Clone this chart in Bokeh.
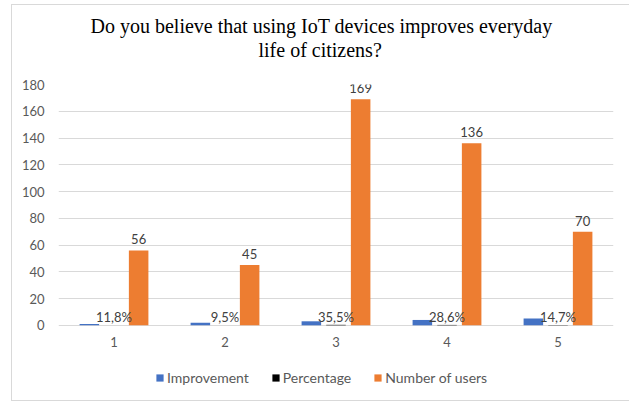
import numpy as np
from bokeh.plotting import figure
from bokeh.models import (Range1d, FixedTicker, Legend, LegendItem, ColumnDataSource, Title)
from bokeh.embed import file_html
from bokeh.resources import INLINE

# Survey answers on a 1-5 scale
categories = [1, 2, 3, 4, 5]
improvement = [1, 2, 3, 4, 5]
percentage = [0.118, 0.095, 0.355, 0.286, 0.147]
users = [56, 45, 169, 136, 70]
y_ticks = [0, 20, 40, 60, 80, 100, 120, 140, 160, 180]
title_lines = ["Do you believe that using IoT devices improves everyday",
               "life of citizens?"]

BLUE = "#4472C4"
BLACK = "#000000"
ORANGE = "#ED7D31"
GREY_TEXT = "#595959"
LABEL_TEXT = "#404040"
FONT = "Lato"

x = np.array(categories, dtype=float)
bar_w = 0.176
shift = 0.222

src = ColumnDataSource(dict(
    x_imp=x - shift,
    x_pct=x,
    x_usr=x + shift,
    x_cat=x,
    zero=[0] * len(categories),
    cat_text=[str(c) for c in categories],
    improvement=improvement,
    percentage=percentage,
    users=users,
    pct_text=[f"{v * 100:.1f}%".replace(".", ",") for v in percentage],
    usr_text=[str(v) for v in users],
))

# the frame reaches below zero so the category labels and legend sit inside it
p = figure(
    width=618, height=397,
    x_range=Range1d(0.5, 5.5), y_range=Range1d(-57.7, 180),
    output_backend="svg", toolbar_location=None,
    x_axis_location=None,
    min_border_left=46, min_border_right=17,
    min_border_top=79, min_border_bottom=0,
)
p.title = None
p.margin = (4, 0, 0, 11)
p.styles = {"border-left": "1px solid #d9d9d9",
            "border-top": "1px solid #d9d9d9",
            "border-bottom": "1px solid #d9d9d9"}

# blank spacer between the plot and the title block
p.add_layout(Title(text=" ", text_font="Liberation Serif",
                   text_font_size="20px", standoff=0), "above")

# two-line chart title; second line is added first so it sits next to the plot
title_offsets = [32, 200]
for line, off in reversed(list(zip(title_lines, title_offsets))):
    p.add_layout(Title(text=line, align="left", offset=off,
                       text_font="Liberation Serif", text_font_size="20px",
                       text_font_style="normal", text_color="#000000",
                       standoff=0), "above")

p.outline_line_color = None
p.background_fill_color = "white"
p.border_fill_color = "white"

r_imp = p.vbar(x="x_imp", top="improvement", width=bar_w, source=src,
               fill_color=BLUE, line_color=None)
r_pct = p.vbar(x="x_pct", top="percentage", width=bar_w, source=src,
               fill_color=BLACK, line_color=None)
r_usr = p.vbar(x="x_usr", top="users", width=bar_w, source=src,
               fill_color=ORANGE, line_color=None)

# value labels above bars
p.text(x="x_pct", y="percentage", text="pct_text", source=src,
       text_align="center", text_baseline="alphabetic", y_offset=-8,
       text_font_size="13px", text_color=LABEL_TEXT,
       text_font={"value": FONT})
p.text(x="x_usr", y="users", text="usr_text", source=src,
       text_align="center", text_baseline="alphabetic", y_offset=-11,
       text_font_size="13px", text_color=LABEL_TEXT,
       text_font={"value": FONT})

# category labels under the zero line
p.text(x="x_cat", y="zero", text="cat_text", source=src,
       text_align="center", text_baseline="middle", y_offset=17,
       text_font_size="13px", text_color=GREY_TEXT,
       text_font={"value": FONT})

# value axis and grid
p.xgrid.grid_line_color = None
p.ygrid.grid_line_color = "#d9d9d9"
p.ygrid.grid_line_width = 1
p.yaxis.ticker = FixedTicker(ticks=y_ticks)
p.yaxis.axis_line_color = None
p.yaxis.major_tick_line_color = None
p.yaxis.major_tick_out = 0
p.yaxis.minor_tick_line_color = None
p.yaxis.major_label_text_font = FONT
p.yaxis.major_label_text_font_size = "13px"
p.yaxis.major_label_text_color = GREY_TEXT
p.yaxis.major_label_standoff = 14

legend = Legend(items=[
    LegendItem(label="Improvement", renderers=[r_imp]),
    LegendItem(label="Percentage", renderers=[r_pct]),
    LegendItem(label="Number of users", renderers=[r_usr]),
], orientation="horizontal", location=(97, 16))
legend.label_text_font = FONT
legend.label_text_font_size = "14px"
legend.label_text_color = GREY_TEXT
legend.glyph_width = 9
legend.glyph_height = 9
legend.label_standoff = 3
legend.spacing = 22
legend.border_line_color = None
legend.background_fill_alpha = 0
legend.padding = 4
p.add_layout(legend)

open("out.html", "w").write(file_html(p, INLINE))
